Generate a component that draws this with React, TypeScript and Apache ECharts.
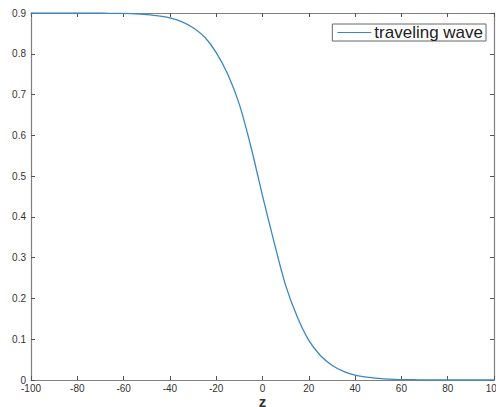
import React, { useEffect, useRef } from "react";
import * as echarts from "echarts";

const zValues = [-100, -95, -90, -85, -80, -75, -70, -65, -60, -55, -50, -45, -40, -35, -30, -25, -20, -15, -10, -5, 0, 5, 10, 15, 20, 25, 30, 35, 40, 45, 50, 55, 60, 65, 70, 75, 80, 85, 90, 95, 100];
const waveValues = [0.9, 0.9, 0.9, 0.9, 0.9, 0.9, 0.9, 0.899, 0.899, 0.898, 0.896, 0.893, 0.888, 0.879, 0.864, 0.841, 0.803, 0.75, 0.676, 0.572, 0.452, 0.338, 0.232, 0.155, 0.097, 0.06, 0.036, 0.021, 0.012, 0.007, 0.004, 0.002, 0.001, 0.001, 0.0, 0.0, 0.0, 0.0, 0.0, 0.0, 0.0];
const seriesName = "traveling wave";
const xAxisName = "z";

export default function App() {
  const ref = useRef<HTMLDivElement>(null);
  useEffect(() => {
    if (!ref.current) return;
    const chart = echarts.init(ref.current, undefined, { renderer: "svg" });
    const axisColor = "#808080";
    const labelColor = "#333";
    const font = "'Liberation Sans', Arial, Helvetica, sans-serif";
    const baseX = {
      type: "value" as const,
      min: -100,
      max: 100,
      interval: 20,
      axisLine: { show: true, onZero: false, lineStyle: { color: axisColor, width: 1.2 } },
      axisTick: { show: true, inside: true, length: 4, lineStyle: { color: "#555" } },
      splitLine: { show: false },
    };
    const baseY = {
      type: "value" as const,
      min: 0,
      max: 0.9,
      interval: 0.1,
      axisLine: { show: true, onZero: false, lineStyle: { color: axisColor, width: 1.2 } },
      axisTick: { show: true, inside: true, length: 4, lineStyle: { color: "#555" } },
      splitLine: { show: false },
    };
    chart.setOption({
      animation: false,
      backgroundColor: "#fff",
      grid: { left: 31, right: 2, top: 13, bottom: 27, containLabel: false, outerBoundsMode: "none" },
      legend: {
        show: true,
        data: [seriesName],
        right: 10,
        top: 24,
        orient: "horizontal",
        icon: "rect",
        itemWidth: 34,
        itemHeight: 1.2,
        itemGap: 4,
        padding: [0, 3, 0, 5],
        borderColor: "#666",
        borderWidth: 1,
        borderRadius: 0,
        backgroundColor: "#fff",
        textStyle: { fontSize: 17, color: "#222", fontFamily: font, padding: [0, 0, 0, -2] },
      },
      xAxis: [
        {
          ...baseX,
          position: "bottom",
          name: xAxisName,
          nameLocation: "middle",
          nameGap: 16,
          nameMoveOverlap: false,
          nameTextStyle: { fontSize: 15, lineHeight: 10, color: "#333", fontFamily: font, fontWeight: "bold" },
          axisLabel: {
            color: labelColor,
            fontSize: 10,
            fontFamily: font,
            margin: 3,
            showMinLabel: true,
            showMaxLabel: true,
            formatter: (v: number) => String(v),
          },
        },
        {
          ...baseX,
          position: "top",
          axisLabel: { show: false },
        },
      ],
      yAxis: [
        {
          ...baseY,
          position: "left",
          axisLabel: {
            color: labelColor,
            fontSize: 10,
            fontFamily: font,
            margin: 5,
            formatter: (v: number) => (v === 0 ? "0" : v.toFixed(1)),
          },
        },
        {
          ...baseY,
          position: "right",
          axisLabel: { show: false },
        },
      ],
      series: [
        {
          name: seriesName,
          type: "line",
          xAxisIndex: 0,
          yAxisIndex: 0,
          data: zValues.map((z, i) => [z, waveValues[i]]),
          showSymbol: false,
          symbol: "none",
          smooth: 0.3,
          lineStyle: { color: "#3a87c2", width: 1.3 },
          itemStyle: { color: "#3a87c2" },
          z: 1,
        },
      ],
    });
    return () => chart.dispose();
  }, []);
  return (
    <div
      ref={ref}
      style={{ position: "fixed", left: 0, top: 0, width: 496, height: 407 }}
    />
  );
}
